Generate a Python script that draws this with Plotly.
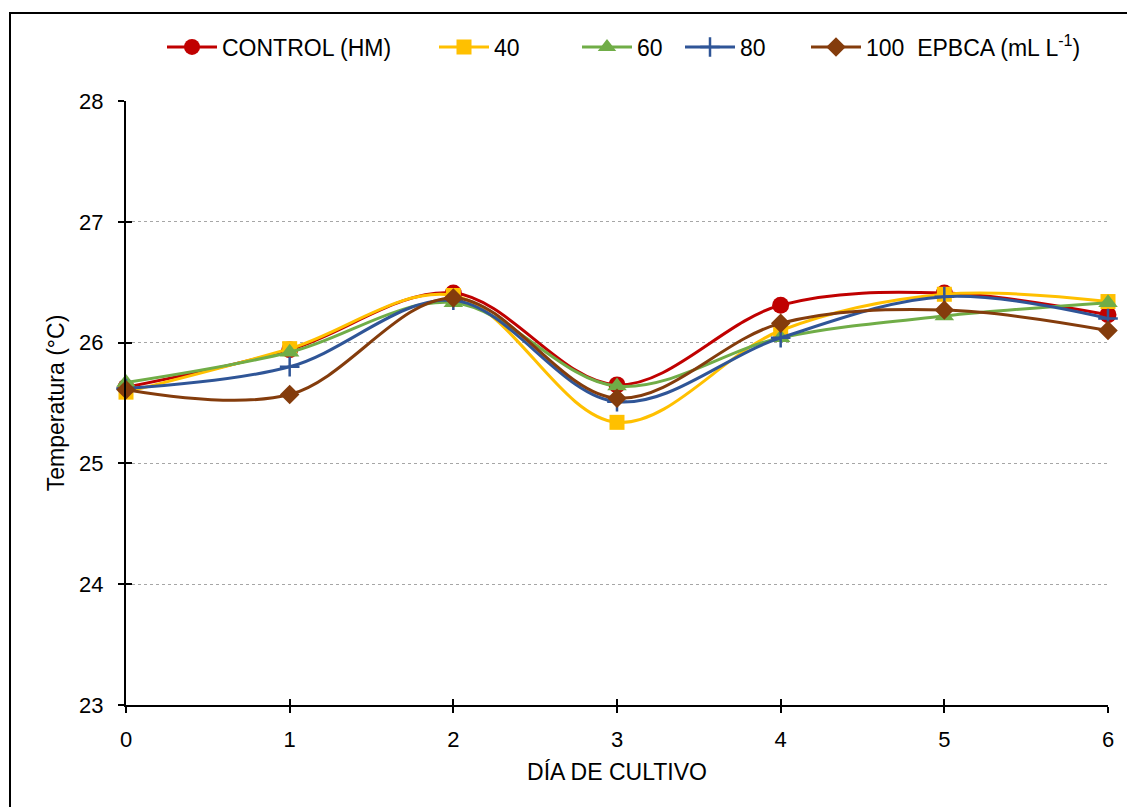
import plotly.graph_objects as go

days = [0, 1, 2, 3, 4, 5, 6]
control = [25.63, 25.94, 26.41, 25.65, 26.31, 26.41, 26.23]
t40 = [25.59, 25.95, 26.39, 25.34, 26.10, 26.40, 26.34]
t60 = [25.67, 25.92, 26.33, 25.64, 26.04, 26.22, 26.33]
t80 = [25.62, 25.80, 26.35, 25.51, 26.04, 26.38, 26.20]
t100 = [25.61, 25.57, 26.37, 25.54, 26.16, 26.27, 26.10]

names = ["CONTROL (HM)", "40", "60", "80", "100  EPBCA (mL L<sup>-1</sup>)"]
series = [control, t40, t60, t80, t100]
colors = ["#C00000", "#FFC000", "#70AD47", "#2F5597", "#843C0C"]
symbols = ["circle", "square", "triangle-up", "cross-thin", "diamond"]
sizes = [17, 15, 17, 14, 15]
legend_text_x = [222, 494, 637, 740, 866]   # reference pixel where each legend text starts

# geometry (reference pixels; page adds an 8px body margin)
OFF = 8
W, H = 1135, 807
X0, X6, Y28, Y23 = 126, 1108, 101, 705
pw, ph = X6 - X0, Y23 - Y28
L, T = X0 - OFF, Y28 - OFF
R, B = W - L - pw, H - T - ph


def px(x):
    return (x - X0) / pw


def py(y):
    return (Y23 - y) / ph


FONT = "Liberation Sans, Arial, sans-serif"
ITEMW = 50

fig = go.Figure()
legends = {}
for i, (n, s, c, sym, sz) in enumerate(zip(names, series, colors, symbols, sizes)):
    marker = dict(symbol=sym, size=sz, color=c)
    if sym == "cross-thin":
        marker["line"] = dict(color=c, width=2.5)
    lg = "legend" if i == 0 else f"legend{i + 1}"
    fig.add_trace(go.Scatter(
        x=days, y=s, name=n, mode="lines+markers",
        line=dict(color=c, width=3, shape="spline", smoothing=1.0),
        marker=marker, cliponaxis=False, legend=lg,
    ))
    legends[lg] = dict(
        x=px(legend_text_x[i] - ITEMW - 10), y=py(47),
        xanchor="left", yanchor="middle", orientation="h",
        font=dict(family=FONT, size=23, color="black"),
        bgcolor="rgba(0,0,0,0)", itemwidth=ITEMW,
    )

# invisible trace on overlaid axes to draw inward half of the crossing ticks
fig.add_trace(go.Scatter(x=[0], y=[23], xaxis="x2", yaxis="y2", mode="markers",
                         marker=dict(opacity=0), showlegend=False, hoverinfo="skip"))

axis_common = dict(zeroline=False, showline=True, linecolor="black", linewidth=2,
                   tickcolor="black", tickwidth=2)

fig.update_layout(
    width=W, height=H,
    margin=dict(l=L, r=R, t=T, b=B),
    paper_bgcolor="white", plot_bgcolor="white",
    font=dict(family=FONT, size=23, color="black"),
    showlegend=True,
    xaxis=dict(range=[0, 6], tickvals=days, showgrid=False,
               ticks="outside", ticklen=6, ticklabelstandoff=8,
               tickfont=dict(size=22),
               title=dict(text="DÍA DE CULTIVO", font=dict(size=23), standoff=12),
               **axis_common),
    yaxis=dict(range=[23, 28], dtick=1, showgrid=True, gridcolor="#A6A6A6",
               griddash="dot", gridwidth=1,
               ticks="outside", ticklen=6, ticklabelstandoff=10,
               tickfont=dict(size=22),
               title=dict(text="Temperatura (°C)", font=dict(size=23), standoff=8),
               **axis_common),
    xaxis2=dict(range=[0, 6], tickvals=days, overlaying="x", side="bottom",
                showgrid=False, showticklabels=False, ticks="inside", ticklen=6,
                **axis_common),
    yaxis2=dict(range=[23, 28], dtick=1, overlaying="y", side="left",
                showgrid=False, showticklabels=False, ticks="inside", ticklen=6,
                **axis_common),
    **legends,
)

fig.add_shape(type="rect", xref="paper", yref="paper",
              x0=px(10), x1=px(W + 20), y0=py(H + 20), y1=py(13),
              line=dict(color="black", width=2), fillcolor="rgba(0,0,0,0)",
              layer="below")

fig.write_html("out.html")
